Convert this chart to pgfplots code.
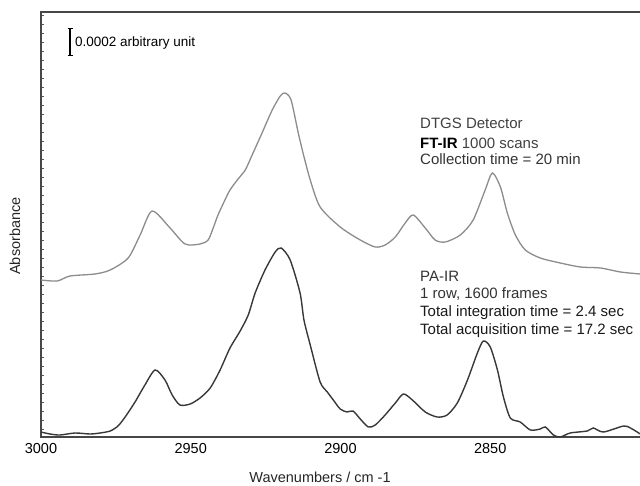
\documentclass[border=0pt]{standalone}
\usepackage{fontspec}
\setmainfont{Liberation Sans}
\usepackage{pgfplots}
\pgfplotsset{compat=1.18}
\definecolor{ftircol}{gray}{0.55}
\definecolor{paircol}{gray}{0.22}
\definecolor{framecol}{gray}{0.28}

% FT-IR spectrum (DTGS detector), vertically offset
\pgfplotstableread{
wn y
3000.0 157
2994.6 156
2990.3 161
2982.0 163
2976.9 167
2970.9 179
2966.9 202
2962.9 226
2956.9 209
2951.9 193
2946.9 193
2944.2 197
2942.5 209
2940.9 222
2938.9 235
2936.9 247
2934.2 258
2931.8 267
2929.5 282
2926.2 304
2922.8 327
2920.1 341
2918.5 344
2916.5 337
2914.1 304
2912.5 284
2910.1 257
2906.8 230
2900.1 210
2893.4 197
2888.4 190
2885.1 192
2881.7 200
2878.4 214
2875.7 222
2871.7 209
2868.4 197
2865.0 195
2860.0 202
2855.7 217
2851.7 247
2849.3 264
2846.6 250
2844.3 224
2841.6 202
2838.3 187
2833.3 179
2826.6 174
2819.9 170
2813.2 169
2806.5 165
2799.9 163
}\ftirdata

% PA-IR spectrum
\pgfplotstableread{
wn y
3000.0 5
2997.0 3
2993.7 2
2988.6 4
2983.6 3
2980.3 4
2976.9 6
2974.3 11
2971.9 20
2968.6 35
2965.3 52
2961.9 67
2958.6 57
2956.2 42
2953.6 32
2950.2 33
2946.9 39
2943.5 49
2940.2 67
2936.9 89
2933.5 106
2930.8 122
2928.5 144
2925.2 167
2921.8 185
2919.8 189
2916.8 177
2913.5 144
2912.2 117
2910.1 92
2906.8 55
2904.4 45
2902.4 37
2900.1 28
2897.8 25
2895.8 26
2893.4 18
2890.7 10
2888.4 12
2885.1 22
2881.7 34
2879.0 43
2876.0 37
2871.7 25
2867.7 20
2864.4 22
2861.0 34
2857.6 57
2854.3 84
2852.3 96
2850.0 90
2847.6 67
2845.6 40
2843.3 19
2840.0 15
2836.6 7
2833.3 8
2831.6 10
2828.9 2
2826.6 0
2823.3 4
2817.6 6
2815.6 9
2812.2 5
2805.5 11
2803.2 9
2799.9 3
}\pairdata

\begin{document}
\begin{tikzpicture}
\useasboundingbox (-41pt,-48pt) rectangle (599pt,437pt);
\begin{axis}[
  at={(0pt,0pt)}, anchor=south west,
  scale only axis, width=602pt, height=425pt,
  x dir=reverse, xmin=2799, xmax=3000, ymin=0, ymax=425,
  axis line style={draw=framecol, line width=1.4pt},
  xtick={3000,2950,2900,2850},
  xticklabels={3000,2950,2900,2850},
  xtick pos=bottom, ytick pos=left,
  major x tick style={draw=none},
  xticklabel style={font=\fontsize{14.5}{14.5}\selectfont, anchor=base, yshift=-16pt},
  ytick={8,17,...,420}, yticklabels={},
  major y tick style={draw=black!65, line width=0.6pt},
  tick align=inside, major tick length=3pt,
  clip=false,
]
\addplot[ftircol, line width=1.3pt, smooth, tension=0.45] table[x=wn, y=y] {\ftirdata};
\addplot[paircol, line width=1.4pt, smooth, tension=0.45] table[x=wn, y=y] {\pairdata};
\end{axis}

% scale bar
\draw[black, line width=1.8pt] (29pt,381pt) -- (29pt,408.7pt);
\draw[black, line width=1pt] (26.5pt,381pt) -- (31.5pt,381pt) (26.5pt,408.7pt) -- (31.5pt,408.7pt);
\node[anchor=base west, inner sep=0pt, font=\fontsize{13.5}{13.5}\selectfont] at (34pt,390.3pt) {0.0002 arbitrary unit};

% annotations
\begin{scope}[every node/.style={anchor=base west, inner sep=0pt, font=\fontsize{15}{15}\selectfont}]
\node[text=black!75] at (379pt,308pt) {DTGS Detector};
\node at (379pt,288pt) {\textbf{FT-IR} \textcolor{black!75}{1000 scans}};
\node[text=black!80] at (379pt,272pt) {Collection time = 20 min};
\node[text=black!80] at (379pt,155pt) {PA-IR};
\node[text=black!80] at (379pt,138pt) {1 row, 1600 frames};
\node[text=black!90] at (379pt,120.6pt) {Total integration time = 2.4 sec};
\node[text=black!90] at (379pt,102.3pt) {Total acquisition time = 17.2 sec};
\end{scope}

% axis titles
\node[font=\fontsize{14.5}{14.5}\selectfont, text=black!85] at (279pt,-40pt) {Wavenumbers / cm -1};
\node[font=\fontsize{14.5}{14.5}\selectfont, text=black!85, rotate=90] at (-26pt,201pt) {Absorbance};
\end{tikzpicture}
\end{document}
